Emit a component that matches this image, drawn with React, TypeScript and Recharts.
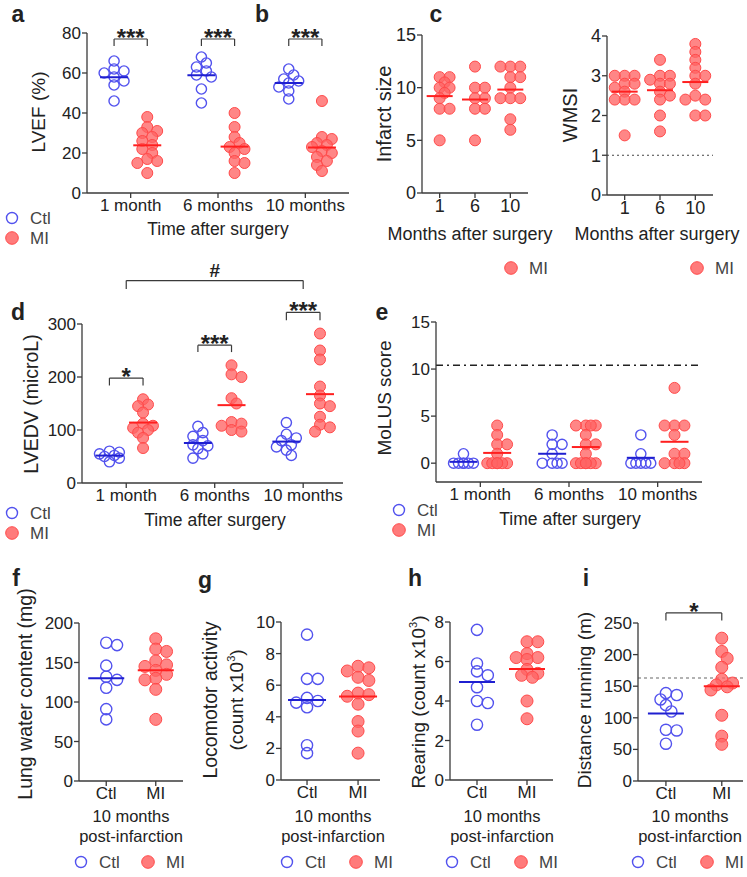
import React from "react";
import { ScatterChart, Scatter, XAxis, YAxis, ReferenceLine } from "recharts";

// ---- data ----
const timeLabels = ["1 month", "6 months", "10 months"];
const monthLabels = ["1", "6", "10"];
const groupLabels = ["Ctl", "MI"];

// a: LVEF (%)
const lvefCtl = [
  [66, 62, 61, 60, 58, 56, 54, 46],
  [68, 65, 63, 61, 59, 58, 52, 45],
  [62, 59, 57, 56, 55, 53, 51, 47],
];
const lvefMI = [
  [38, 33, 31, 30, 28, 26, 24, 22, 20, 17, 16, 15, 10],
  [40, 33, 28, 25, 23, 22, 20, 16, 15, 10],
  [46, 28, 27, 25, 24, 23, 21, 20, 18, 16, 14, 11],
];

// b: infarct size
const infarctMI = [
  [11, 11, 10.5, 10, 10, 9.5, 9, 8, 8, 5],
  [12, 10, 10, 9, 9, 8, 8, 5],
  [12, 12, 12, 11, 11, 10, 9, 9, 9, 7, 6],
];

// c: WMSI
const wmsiMI = [
  [3.0, 3.0, 3.0, 2.8, 2.8, 2.7, 2.6, 2.4, 2.4, 2.4, 1.5],
  [3.4, 3.0, 3.0, 2.9, 2.8, 2.8, 2.6, 2.5, 2.4, 2.0, 1.6],
  [3.8, 3.6, 3.4, 3.2, 3.0, 3.0, 2.8, 2.5, 2.4, 2.4, 2.0, 2.0],
];

// d: LVEDV (microL)
const lvedvCtl = [
  [60, 58, 55, 52, 50, 47, 40],
  [107, 95, 88, 80, 72, 70, 65, 55, 47],
  [114, 92, 85, 80, 72, 68, 62, 52],
];
const lvedvMI = [
  [158, 148, 145, 133, 112, 108, 104, 100, 95, 85, 66],
  [222, 205, 200, 160, 150, 115, 112, 108, 100, 97],
  [282, 250, 233, 182, 165, 150, 145, 125, 110, 105, 97],
];

// e: MoLUS score
const molusCtl = [
  [1, 0, 0, 0, 0, 0, 0],
  [3, 2, 2, 1, 0, 0, 0, 0],
  [3, 1, 0, 0, 0, 0, 0],
];
const molusMI = [
  [4, 3, 2, 2, 1, 0, 0, 0, 0, 0, 0],
  [4, 4, 4, 4, 3, 2, 2, 1, 0, 0, 0, 0, 0, 0],
  [8, 4, 4, 4, 3, 1, 1, 0, 0, 0, 0],
];

// f-i: 10 months post-infarction
const lungCtl = [175, 172, 146, 132, 128, 118, 91, 78];
const lungMI = [180, 167, 164, 152, 147, 145, 140, 135, 130, 128, 116, 78];
const locoCtl = [9.2, 6.4, 6.4, 5.2, 5.0, 4.9, 4.6, 2.2, 1.7];
const locoMI = [7.2, 7.1, 6.9, 6.5, 6.3, 5.5, 5.4, 5.3, 4.8, 3.7, 3.1, 1.7];
const rearCtl = [7.6, 5.9, 5.5, 5.3, 4.7, 4.0, 3.9, 2.8];
const rearMI = [7.0, 7.0, 6.4, 6.2, 6.2, 6.1, 5.6, 5.4, 5.3, 5.2, 4.0, 3.1];
const runCtl = [139, 136, 129, 120, 110, 81, 80, 59];
const runMI = [226, 205, 194, 180, 161, 155, 152, 149, 144, 104, 71, 58];

// ---- styles ----
const FONT = 'Arimo, "Liberation Sans", Arial, Helvetica, sans-serif';
const TXT = "#222";
const AXIS = "#3a3a3a";
const BLUE = "#5252ee";
const BLUE_LINE = "#1f1fd0";
const RED = "#ff6464";
const RED_EDGE = "#ff4a4a";
const RED_LINE = "#ff1f1f";

type Group = { values: number[]; x: number; kind: "ctl" | "mi" };
type Bracket = { x1: number; x2: number; y: number; drop: number; text: string };

const mean = (a: number[]) => a.reduce((s, v) => s + v, 0) / a.length;

// column-scatter layout: spread points that would overlap, within a max half width
function swarm(values: number[], pxY: number, pxX: number, r: number, half: number) {
  const order = values.map((_, i) => i).sort((a, b) => values[b] - values[a]);
  const placed: { x: number; y: number }[] = [];
  const out = new Array(values.length).fill(0);
  const minD = r * 1.3;
  const step = r * 0.9;
  for (const i of order) {
    const y = values[i] * pxY;
    let best = 0;
    let bestD = -1;
    for (let k = 0; k < 40; k++) {
      const cand = k === 0 ? 0 : (k % 2 ? 1 : -1) * Math.ceil(k / 2) * step;
      if (Math.abs(cand) > half) break;
      const d = placed.reduce((m, p) => Math.min(m, Math.hypot(p.x - cand, p.y - y)), Infinity);
      if (d >= minD) {
        best = cand;
        break;
      }
      if (d > bestD) {
        bestD = d;
        best = cand;
      }
    }
    placed.push({ x: best, y });
    out[i] = best / pxX;
  }
  return out;
}

const timeGroups = (ctl: number[][] | null, mi: number[][], shift: number): Group[] => [
  ...(ctl ? ctl.map((v, i) => ({ values: v, x: i + 1 - shift, kind: "ctl" as const })) : []),
  ...mi.map((v, i) => ({ values: v, x: i + 1 + (ctl ? shift : 0), kind: "mi" as const })),
];

const pairGroups = (ctl: number[], mi: number[]): Group[] => [
  { values: ctl, x: 1, kind: "ctl" },
  { values: mi, x: 2, kind: "mi" },
];

type PanelProps = {
  box: { x0: number; x1: number; y0: number; y1: number };
  padT?: number;
  yDomain: [number, number];
  yTicks: number[];
  xDomain: [number, number];
  xTicks: number[];
  xLabels: string[];
  groups: Group[];
  r: number;
  half: number;
  meanW: number;
  fs?: number;
  brackets?: Bracket[];
  refLine?: { y: number; dash: string; color: string; width: number };
};

function Panel(p: PanelProps) {
  const padL = 50;
  const padB = 30;
  const padR = 10;
  const padT = p.padT ?? 10;
  const plotW = p.box.x1 - p.box.x0;
  const plotH = p.box.y1 - p.box.y0;
  const pxX = plotW / (p.xDomain[1] - p.xDomain[0]);
  const pxY = plotH / (p.yDomain[1] - p.yDomain[0]);
  const rc = p.r - 0.4; // open circles a bit smaller

  const points = (kind: string) =>
    p.groups
      .filter((g) => g.kind === kind)
      .flatMap((g) => {
        const off = swarm(g.values, pxY, pxX, p.r, p.half);
        return g.values.map((v, i) => ({ x: g.x + off[i], y: v }));
      });
  const means = (kind: string) =>
    p.groups.filter((g) => g.kind === kind).map((g) => ({ x: g.x, y: mean(g.values) }));

  const meanShape = (color: string) => (s: any) => (
    <line x1={s.cx - p.meanW / 2} x2={s.cx + p.meanW / 2} y1={s.cy} y2={s.cy} stroke={color} strokeWidth={2} />
  );

  const tick = { fontSize: p.fs ?? 17, fill: TXT, fontFamily: FONT };

  return (
    <div style={{ position: "absolute", left: p.box.x0 - padL, top: p.box.y0 - padT }}>
      <ScatterChart
        width={plotW + padL + padR}
        height={plotH + padT + padB}
        margin={{ top: padT, right: padR, bottom: padB - 30, left: padL - 40 }}
        style={{ fontFamily: FONT, overflow: "visible" }}
      >
        <XAxis
          type="number"
          dataKey="x"
          domain={p.xDomain}
          ticks={p.xTicks}
          interval={0}
          allowDataOverflow
          height={30}
          tickSize={5}
          tickMargin={1}
          tick={tick}
          tickFormatter={(v: number) => p.xLabels[p.xTicks.indexOf(v)] ?? ""}
          axisLine={{ stroke: AXIS, strokeWidth: 1.3 }}
          tickLine={{ stroke: AXIS, strokeWidth: 1.3 }}
        />
        <YAxis
          type="number"
          dataKey="y"
          domain={p.yDomain}
          ticks={p.yTicks}
          interval={0}
          allowDataOverflow
          width={40}
          tickSize={5}
          tickMargin={1}
          tick={tick}
          axisLine={{ stroke: AXIS, strokeWidth: 1.3 }}
          tickLine={{ stroke: AXIS, strokeWidth: 1.3 }}
        />
        {p.refLine && (
          <ReferenceLine
            y={p.refLine.y}
            stroke={p.refLine.color}
            strokeWidth={p.refLine.width}
            strokeDasharray={p.refLine.dash}
            ifOverflow="visible"
          />
        )}
        {(p.brackets ?? []).flatMap((b, i) => [
          <ReferenceLine
            key={`h${i}`}
            segment={[{ x: b.x1, y: b.y }, { x: b.x2, y: b.y }]}
            stroke={AXIS}
            strokeWidth={1.2}
            ifOverflow="visible"
            label={{
              value: b.text,
              position: "top",
              fontSize: b.text === "#" ? 19 : 24,
              fontWeight: "bold",
              fill: TXT,
              offset: b.text === "#" ? 4 : -7,
            }}
          />,
          <ReferenceLine key={`l${i}`} segment={[{ x: b.x1, y: b.y }, { x: b.x1, y: b.y - b.drop }]} stroke={AXIS} strokeWidth={1.2} ifOverflow="visible" />,
          <ReferenceLine key={`r${i}`} segment={[{ x: b.x2, y: b.y }, { x: b.x2, y: b.y - b.drop }]} stroke={AXIS} strokeWidth={1.2} ifOverflow="visible" />,
        ])}
        <Scatter
          data={points("ctl")}
          isAnimationActive={false}
          shape={(s: any) => <circle cx={s.cx} cy={s.cy} r={rc} fill="none" stroke={BLUE} strokeWidth={1.4} />}
        />
        <Scatter
          data={points("mi")}
          isAnimationActive={false}
          shape={(s: any) => (
            <circle cx={s.cx} cy={s.cy} r={p.r} fill={RED} fillOpacity={0.78} stroke={RED_EDGE} strokeWidth={1} />
          )}
        />
        <Scatter data={means("ctl")} isAnimationActive={false} shape={meanShape(BLUE_LINE)} />
        <Scatter data={means("mi")} isAnimationActive={false} shape={meanShape(RED_LINE)} />
      </ScatterChart>
    </div>
  );
}

function T(props: { x: number; y: number; children: React.ReactNode; size?: number; bold?: boolean; rot?: boolean; left?: boolean }) {
  const { x, y, size = 17.5, bold, rot, left } = props;
  return (
    <div
      style={{
        position: "absolute",
        left: x,
        top: y,
        transform: left ? "translate(0,-50%)" : `translate(-50%,-50%)${rot ? " rotate(-90deg)" : ""}`,
        fontSize: size,
        fontWeight: bold ? "bold" : "normal",
        whiteSpace: "nowrap",
        lineHeight: 1,
        color: TXT,
        fontFamily: FONT,
      }}
    >
      {props.children}
    </div>
  );
}

function Key(props: { x: number; y: number; kind: "ctl" | "mi"; label: string }) {
  return (
    <>
      <svg style={{ position: "absolute", left: props.x - 8, top: props.y - 8 }} width={16} height={16}>
        {props.kind === "ctl" ? (
          <circle cx={8} cy={8} r={5.5} fill="none" stroke={BLUE} strokeWidth={1.4} />
        ) : (
          <circle cx={8} cy={8} r={6.3} fill={RED} fillOpacity={0.85} stroke={RED_EDGE} strokeWidth={1} />
        )}
      </svg>
      <T x={props.x + 18} y={props.y} left size={17}>
        <span style={{ color: "#444" }}>{props.label}</span>
      </T>
    </>
  );
}

// two-line caption under the bottom panels
function Caption(props: { x: number }) {
  return (
    <>
      <T x={props.x} y={816} size={16.5}>10 months</T>
      <T x={props.x} y={836} size={16.5}>post-infarction</T>
    </>
  );
}

const Sup3 = () => <sup style={{ fontSize: 11, verticalAlign: "super", lineHeight: 0 }}>3</sup>;

export default function App() {
  return (
    <div style={{ position: "absolute", left: 0, top: 0, width: 747, height: 877, background: "#fff", overflow: "hidden" }}>
      {/* a */}
      <T x={18} y={14} size={23} bold>a</T>
      <T x={38} y={112} rot size={19}>LVEF (%)</T>
      <Panel
        box={{ x0: 87, x1: 349, y0: 33, y1: 193 }}
        padT={20}
        yDomain={[0, 80]}
        yTicks={[0, 20, 40, 60, 80]}
        xDomain={[0.5, 3.5]}
        xTicks={[1, 2, 3]}
        xLabels={timeLabels}
        groups={timeGroups(lvefCtl, lvefMI, 0.19)}
        r={5.5}
        half={12}
        meanW={28}
        brackets={[1, 2, 3].map((g) => ({ x1: g - 0.19, x2: g + 0.19, y: 77, drop: 3.5, text: "***" }))}
      />
      <T x={218} y={230}>Time after surgery</T>
      <Key x={12} y={218} kind="ctl" label="Ctl" />
      <Key x={12} y={238} kind="mi" label="MI" />

      {/* b */}
      <T x={262} y={14} size={23} bold>b</T>
      <T x={384} y={114} rot size={20}>Infarct size</T>
      <Panel
        box={{ x0: 422, x1: 528, y0: 35, y1: 193 }}
        yDomain={[0, 15]}
        yTicks={[0, 5, 10, 15]}
        xDomain={[0.5, 3.5]}
        xTicks={[1, 2, 3]}
        xLabels={monthLabels}
        groups={timeGroups(null, infarctMI, 0)}
        r={5.5}
        half={11}
        meanW={26}
        fs={18}
      />
      <T x={470} y={234} size={18}>Months after surgery</T>
      <Key x={511} y={268} kind="mi" label="MI" />

      {/* c */}
      <T x={436} y={14} size={23} bold>c</T>
      <T x={570} y={115} rot size={20}>WMSI</T>
      <Panel
        box={{ x0: 607, x1: 713, y0: 36, y1: 195 }}
        yDomain={[0, 4]}
        yTicks={[0, 1, 2, 3, 4]}
        xDomain={[0.5, 3.5]}
        xTicks={[1, 2, 3]}
        xLabels={monthLabels}
        groups={timeGroups(null, wmsiMI, 0)}
        r={5.5}
        half={11}
        meanW={26}
        fs={18}
        refLine={{ y: 1, dash: "2 3", color: "#444", width: 1.2 }}
      />
      <T x={657} y={234} size={18}>Months after surgery</T>
      <Key x={697} y={268} kind="mi" label="MI" />

      {/* d */}
      <T x={18} y={312} size={23} bold>d</T>
      <T x={32} y={404} rot size={19.5}>LVEDV (microL)</T>
      <Panel
        box={{ x0: 82, x1: 343, y0: 324, y1: 483 }}
        padT={72}
        yDomain={[0, 300]}
        yTicks={[0, 100, 200, 300]}
        xDomain={[0.5, 3.45]}
        xTicks={[1, 2, 3]}
        xLabels={timeLabels}
        groups={timeGroups(lvedvCtl, lvedvMI, 0.19)}
        r={5.5}
        half={12}
        meanW={28}
        brackets={[
          { x1: 0.81, x2: 1.19, y: 198, drop: 14, text: "*" },
          { x1: 1.81, x2: 2.19, y: 260, drop: 13, text: "***" },
          { x1: 2.81, x2: 3.19, y: 322, drop: 15, text: "***" },
          { x1: 1, x2: 3, y: 382, drop: 16, text: "#" },
        ]}
      />
      <T x={215} y={521}>Time after surgery</T>
      <Key x={12} y={513} kind="ctl" label="Ctl" />
      <Key x={12} y={533} kind="mi" label="MI" />

      {/* e */}
      <T x={382} y={312} size={23} bold>e</T>
      <T x={384} y={398} rot size={19}>MoLUS score</T>
      <Panel
        box={{ x0: 436, x1: 702, y0: 322, y1: 482 }}
        yDomain={[-2, 15]}
        yTicks={[0, 5, 10, 15]}
        xDomain={[0.5, 3.5]}
        xTicks={[1, 2, 3]}
        xLabels={timeLabels}
        groups={timeGroups(molusCtl, molusMI, 0.19)}
        r={5.5}
        half={12}
        meanW={28}
        refLine={{ y: 10.4, dash: "7 4 2 4", color: "#222", width: 1.6 }}
      />
      <T x={570} y={520}>Time after surgery</T>
      <Key x={399} y={510} kind="ctl" label="Ctl" />
      <Key x={399} y={530} kind="mi" label="MI" />

      {/* f */}
      <T x={16} y={578} size={23} bold>f</T>
      <T x={26} y={694} rot size={19.5}>Lung water content (mg)</T>
      <Panel
        box={{ x0: 79, x1: 183, y0: 623, y1: 781 }}
        yDomain={[0, 200]}
        yTicks={[0, 50, 100, 150, 200]}
        xDomain={[0.45, 2.55]}
        xTicks={[1, 2]}
        xLabels={groupLabels}
        groups={pairGroups(lungCtl, lungMI)}
        r={6}
        half={14}
        meanW={36}
      />
      <Caption x={131} />
      <Key x={81} y={862} kind="ctl" label="Ctl" />
      <Key x={148} y={862} kind="mi" label="MI" />

      {/* g */}
      <T x={205} y={580} size={23} bold>g</T>
      <T x={211} y={700} rot size={19.5}>Locomotor activity</T>
      <T x={236} y={700} rot size={19}>
        (count x10<Sup3 />)
      </T>
      <Panel
        box={{ x0: 281, x1: 380, y0: 622, y1: 780 }}
        yDomain={[0, 10]}
        yTicks={[0, 2, 4, 6, 8, 10]}
        xDomain={[0.49, 2.43]}
        xTicks={[1, 2]}
        xLabels={groupLabels}
        groups={pairGroups(locoCtl, locoMI)}
        r={6}
        half={14}
        meanW={38}
      />
      <Caption x={333} />
      <Key x={287} y={862} kind="ctl" label="Ctl" />
      <Key x={356} y={862} kind="mi" label="MI" />

      {/* h */}
      <T x={415} y={578} size={23} bold>h</T>
      <T x={418} y={702} rot size={19}>
        Rearing (count x10<Sup3 />)
      </T>
      <Panel
        box={{ x0: 450, x1: 553, y0: 622, y1: 780 }}
        yDomain={[0, 8]}
        yTicks={[0, 2, 4, 6, 8]}
        xDomain={[0.46, 2.52]}
        xTicks={[1, 2]}
        xLabels={groupLabels}
        groups={pairGroups(rearCtl, rearMI)}
        r={6}
        half={14}
        meanW={36}
      />
      <Caption x={502} />
      <Key x={452} y={862} kind="ctl" label="Ctl" />
      <Key x={521} y={862} kind="mi" label="MI" />

      {/* i */}
      <T x={586} y={578} size={23} bold>i</T>
      <T x={584} y={700} rot size={19}>Distance running (m)</T>
      <Panel
        box={{ x0: 638, x1: 743, y0: 623, y1: 781 }}
        padT={32}
        yDomain={[0, 250]}
        yTicks={[0, 50, 100, 150, 200, 250]}
        xDomain={[0.5, 2.38]}
        xTicks={[1, 2]}
        xLabels={groupLabels}
        groups={pairGroups(runCtl, runMI)}
        r={6}
        half={14}
        meanW={36}
        refLine={{ y: 163, dash: "3 3", color: "#666", width: 1.2 }}
        brackets={[{ x1: 1, x2: 2, y: 266, drop: 12, text: "*" }]}
      />
      <Caption x={690} />
      <Key x={638} y={862} kind="ctl" label="Ctl" />
      <Key x={707} y={862} kind="mi" label="MI" />
    </div>
  );
}
